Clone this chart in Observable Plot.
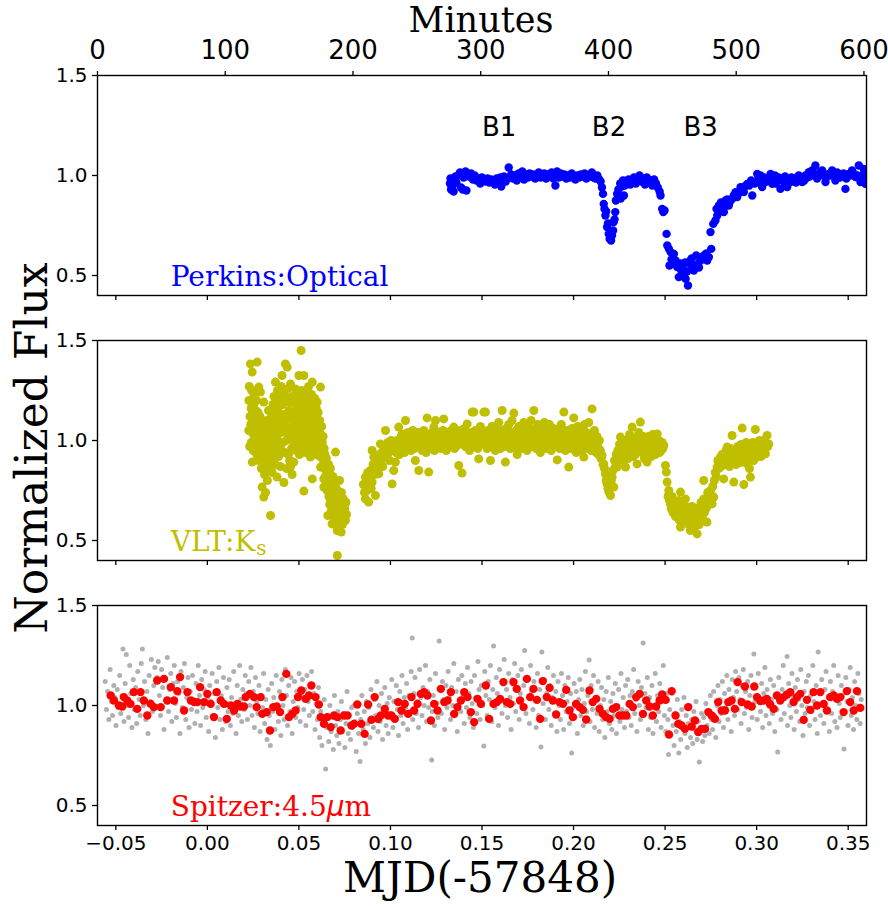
<!DOCTYPE html>
<html><head><meta charset="utf-8">
<script src="https://cdn.jsdelivr.net/npm/d3@7"></script>
<script src="https://cdn.jsdelivr.net/npm/@observablehq/plot@0.6"></script>
<style>
body{margin:0;background:#fff;}
#wrap{position:relative;width:888px;height:907px;overflow:hidden;}
#wrap svg{display:block;}
.ttl{position:absolute;font-family:"DejaVu Serif",serif;color:#000;white-space:nowrap;}
</style></head><body>
<div id="wrap"></div>
<script>
// ---------- data: [MJD(-57848), normalized flux] ----------
const perkins = [
[0.1325,0.96],[0.1328,0.985],[0.1331,0.93],[0.1335,0.975],[0.134,0.95],[0.1345,0.92],[0.135,0.98],[0.1355,0.995],[0.136,0.965],[0.137,1.0],[0.138,1.015],[0.1385,0.94],[0.139,1.005],[0.1395,0.93],[0.14,0.99],[0.141,1.02],[0.1415,0.925],[0.142,1.005],[0.143,0.995],[0.144,1.01],[0.145,0.98],[0.146,1.0],[0.147,0.975],[0.148,0.985],[0.149,0.96],[0.15,0.99],[0.151,0.975],[0.152,0.97],[0.153,0.985],[0.154,0.965],[0.155,0.98],[0.156,0.975],[0.157,0.955],[0.158,0.985],[0.159,0.97],[0.16,0.99],[0.1605,0.945],[0.161,0.975],[0.162,0.995],[0.163,0.97],[0.1646,1.04],[0.165,0.99],[0.166,1.005],[0.167,0.985],[0.168,1.0],[0.169,0.975],[0.17,1.01],[0.171,0.995],[0.172,1.02],[0.173,0.98],[0.174,1.005],[0.175,0.99],[0.176,1.01],[0.177,0.995],[0.178,1.005],[0.179,0.985],[0.18,1.0],[0.181,1.015],[0.182,0.99],[0.183,1.0],[0.184,1.01],[0.185,0.985],[0.186,1.005],[0.187,0.995],[0.188,1.015],[0.189,0.985],[0.1901,0.95],[0.19,1.0],[0.191,1.02],[0.192,0.99],[0.193,1.01],[0.194,0.995],[0.195,1.005],[0.196,0.985],[0.197,1.0],[0.198,0.99],[0.199,1.01],[0.2,0.995],[0.201,0.98],[0.202,1.0],[0.203,0.99],[0.204,1.005],[0.205,0.995],[0.206,1.01],[0.207,0.985],[0.208,1.0],[0.209,0.995],[0.21,1.015],[0.211,0.99],[0.212,0.985],[0.213,1.0],[0.214,0.98],
[0.2148,0.97],[0.2155,0.94],[0.2161,0.908],[0.2165,0.858],[0.2169,0.833],[0.2174,0.8],[0.2178,0.82],[0.2183,0.742],[0.2188,0.76],[0.2192,0.708],[0.2197,0.683],[0.2201,0.69],[0.2205,0.675],[0.221,0.7],[0.2216,0.725],[0.2219,0.767],[0.2224,0.78],[0.2228,0.817],[0.2231,0.875],[0.2238,0.908],
[0.2245,0.93],[0.2255,0.96],[0.2258,0.885],[0.2262,0.945],[0.227,0.975],[0.2275,0.9],[0.228,0.95],[0.229,0.965],[0.23,0.98],[0.231,0.955],[0.232,0.97],[0.233,0.99],[0.234,0.96],[0.235,0.975],[0.236,1.0],[0.237,0.97],[0.238,0.985],[0.239,0.955],[0.24,0.99],[0.241,0.965],[0.242,0.975],[0.243,0.95],[0.244,0.98],[0.245,0.96],[0.246,0.94],[0.247,0.92],[0.2475,0.9],
[0.2484,0.833],[0.249,0.817],[0.2497,0.825],[0.2508,0.708],[0.2512,0.65],[0.2521,0.633],[0.253,0.617],[0.2524,0.55],[0.2535,0.58],[0.2548,0.608],[0.255,0.56],[0.2557,0.575],[0.2566,0.542],[0.2575,0.492],[0.2585,0.56],[0.2588,0.525],[0.2595,0.54],[0.2603,0.508],[0.261,0.565],[0.2612,0.483],[0.262,0.52],[0.2625,0.45],[0.2636,0.558],[0.2639,0.575],[0.2645,0.585],[0.2648,0.55],[0.2657,0.525],[0.2666,0.542],[0.267,0.6],[0.2679,0.558],[0.2685,0.54],[0.2694,0.575],[0.27,0.59],[0.2712,0.6],[0.2725,0.61],[0.273,0.575],[0.2739,0.592],[0.2752,0.633],[0.2748,0.717],[0.2763,0.758],[0.2775,0.775],[0.2781,0.833],[0.2785,0.8],[0.2794,0.85],[0.28,0.83],[0.2805,0.865],[0.2812,0.858],[0.2821,0.817],[0.2825,0.845],[0.283,0.875],[0.284,0.88],[0.2848,0.85],[0.2855,0.87],[0.2867,0.883],[0.2875,0.9],[0.2885,0.917],[0.2894,0.892],[0.29,0.91],[0.2912,0.942],[0.292,0.93],[0.293,0.917],[0.2935,0.945],[0.2948,0.958],[0.296,0.95],[0.297,0.975],[0.2976,0.9],[0.2985,0.967],[0.299,0.96],[0.3003,1.008],[0.301,0.985],[0.3021,1.0],[0.302,0.965],[0.303,0.942],[0.304,0.99],[0.3048,0.967],[0.306,0.975],[0.307,0.99],[0.3076,1.008],[0.3085,0.958],[0.3094,0.983],[0.31,1.0],[0.3105,0.96],[0.3112,0.975],[0.312,0.99],[0.313,0.933],[0.314,0.98],[0.3148,0.967],[0.3155,0.995],[0.3167,0.942],[0.3175,0.975],[0.3185,0.967],[0.319,0.99],[0.3203,0.983],[0.3215,0.965],[0.322,0.99],[0.323,1.0],[0.324,0.985],[0.3249,0.967],[0.326,0.975],[0.3267,1.0],[0.3275,0.99],[0.3285,1.017],[0.329,0.995],[0.3303,1.025],[0.331,1.005],[0.3321,1.05],[0.333,0.985],[0.334,1.0],[0.3345,1.015],[0.3358,1.025],[0.3365,1.0],[0.3376,0.967],[0.338,0.99],[0.3394,1.008],[0.34,1.0],[0.3412,1.025],[0.342,1.0],[0.343,0.975],[0.344,1.015],[0.3449,0.992],[0.3455,0.99],[0.3467,1.0],[0.3475,1.01],[0.3485,0.933],[0.349,0.985],[0.3503,1.008],[0.351,1.0],[0.3521,1.025],[0.353,1.01],[0.354,0.992],[0.355,1.0],[0.3558,1.05],[0.3567,0.967],[0.3575,1.0],[0.3585,1.033],[0.359,1.02],[0.3594,0.958],[0.3598,0.99]
];

const vlt = [
[0.0226,1.05],[0.0227,1.2],[0.0229,1.27],[0.0231,0.97],[0.0233,1.12],[0.0235,1.383],[0.0235,1.2],[0.0237,1.08],[0.0239,1.16],[0.024,0.99],[0.0242,1.25],[0.0244,1.04],[0.0245,1.342],[0.0245,0.892],[0.0247,1.13],[0.0249,1.21],[0.025,0.95],[0.0252,1.07],[0.0254,1.18],[0.0256,1.01],[0.0258,1.23],[0.026,1.1],[0.0262,0.97],[0.0264,1.15],[0.0266,1.04],[0.0268,1.2],[0.027,0.93],[0.0272,1.392],[0.0273,1.09],[0.0275,1.0],[0.0277,1.14],[0.0279,0.9],[0.0281,1.267],[0.0283,1.06],[0.0285,0.98],[0.0287,1.12],[0.029,1.242],[0.0291,0.94],[0.0293,1.03],[0.0295,0.86],[0.0297,1.1],[0.0299,0.767],[0.0301,0.99],[0.0303,1.07],[0.0305,0.91],[0.0308,0.717],[0.0308,1.192],[0.031,1.0],
[0.0312,0.83],[0.0314,1.05],[0.0316,0.95],[0.0318,0.74],[0.032,1.02],[0.0322,0.88],[0.0324,1.1],[0.0326,0.97],[0.0328,0.8],[0.033,1.04],[0.0332,0.92],[0.0334,1.15],[0.0336,0.99],[0.0338,0.86],[0.034,1.08],[0.0342,0.95],[0.0345,0.625],[0.0346,1.01],[0.0348,0.9],[0.035,1.12],[0.0352,0.97],[0.0354,0.84],[0.0356,1.05],[0.0358,1.18],
[0.036,0.93],[0.0362,1.07],[0.0364,1.22],[0.0366,0.99],[0.0368,1.14],[0.037,0.88],[0.0372,1.292],[0.0374,1.03],[0.0376,1.19],[0.0378,0.96],[0.038,1.1],[0.0381,0.817],[0.0383,1.25],[0.0385,1.0],[0.0387,1.16],[0.0389,0.92],[0.0391,1.07],[0.0393,1.21],[0.0395,0.98],[0.0397,1.12],[0.0399,0.87],[0.0401,1.04],[0.0403,1.27],[0.0405,0.95],[0.0408,1.325],[0.0409,1.09],[0.0411,1.18],[0.0413,0.99],[0.0415,1.13],[0.0418,0.79],[0.0419,1.05],[0.0421,1.23],[0.0423,0.94],[0.0426,1.383],[0.0427,1.08],[0.0429,1.2],[0.0431,1.0],[0.0433,0.86],[0.0436,1.367],[0.0437,1.12],[0.0439,1.03],[0.0441,1.26],[0.0443,0.93],[0.0445,1.15],[0.0447,1.06],[0.0449,0.9],[0.0451,1.19],[0.0454,1.283],[0.0454,0.867],[0.0456,1.01],[0.0458,1.11],[0.046,0.96],[0.0463,0.83],[0.0464,1.22],[0.0466,1.04],[0.0468,1.14],[0.047,0.97],[0.0472,0.892],[0.0474,1.08],[0.0476,1.2],[0.0478,1.0],[0.0481,1.258],[0.0483,1.1],[0.0485,0.95],[0.0487,1.17],[0.0489,1.05],
[0.0491,1.23],[0.0493,0.98],[0.0495,1.12],[0.0497,1.03],[0.05,1.325],[0.0501,1.16],[0.0503,0.93],[0.0505,1.08],[0.0507,1.2],[0.0509,1.0],[0.0512,1.45],[0.0513,1.11],[0.0515,1.25],[0.0517,0.96],[0.0519,1.14],[0.0521,1.05],[0.0523,1.19],[0.0525,0.99],[0.0527,1.325],[0.0527,0.747],[0.0529,1.09],[0.0531,1.22],[0.0533,1.02],[0.0535,1.15],[0.0537,0.94],[0.0539,1.07],[0.0541,1.24],[0.0543,1.0],[0.0545,1.13],[0.0547,0.97],[0.0549,1.18],[0.0551,1.06],[0.0553,1.27],[0.0555,0.95],[0.0557,1.1],[0.0559,1.2],[0.0561,1.01],[0.0563,0.917],[0.0565,1.14],[0.0567,1.04],[0.0569,1.23],[0.0571,0.98],[0.0573,1.292],[0.0573,0.808],[0.0575,1.09],[0.0577,1.17],[0.0579,1.0],[0.0581,1.12],[0.0583,0.93],[0.0585,1.06],[0.0587,1.21],[0.0589,0.99],[0.0591,1.11],[0.0593,0.95],[0.0595,1.16],[0.0597,1.03],[0.06,1.192],[0.0601,0.97],[0.0603,1.08],[0.0605,1.14],[0.0607,0.94],[0.0609,1.05],[0.0611,1.0],[0.0613,1.1],[0.0615,0.92],[0.0618,1.267],[0.0618,0.867],[0.062,1.03],[0.0622,0.96],[0.0624,1.07],[0.0627,0.867],[0.0628,0.99],
[0.063,0.94],[0.0632,1.02],[0.0634,0.9],[0.0636,0.767],[0.0636,0.808],[0.0638,0.96],[0.064,0.86],[0.0642,0.93],[0.0644,0.82],[0.0646,0.89],[0.0648,0.78],[0.065,0.91],[0.0652,0.84],[0.0654,0.75],[0.0657,0.85],[0.0658,0.625],[0.066,0.8],[0.0662,0.88],[0.0664,0.72],[0.0666,0.83],[0.0668,0.68],[0.067,0.77],[0.0672,0.86],[0.0674,0.7],[0.0676,0.8],[0.0678,0.65],[0.0681,0.583],[0.0682,0.76],[0.0684,0.69],[0.0686,0.82],[0.0688,0.62],[0.069,0.73],[0.0692,0.67],[0.0694,0.78],[0.0696,0.6],[0.0698,0.71],[0.07,0.708],[0.07,0.942],[0.0702,0.64],[0.0704,0.76],[0.0706,0.58],[0.0709,0.75],[0.0709,0.55],[0.071,0.425],[0.0712,0.68],[0.0714,0.62],[0.0716,0.72],[0.0718,0.57],[0.072,0.66],[0.0722,0.8],[0.0724,0.6],[0.0726,0.7],[0.0728,0.64],[0.0731,0.542],[0.0732,0.74],[0.0734,0.62],[0.0736,0.68],[0.0738,0.58],[0.074,0.71],[0.0742,0.64],[0.0745,0.675],[0.0745,0.6],[0.0747,0.7],[0.0749,0.63],[0.0751,0.66],[0.0754,0.6],[0.0757,0.69],[0.076,0.63],
[0.0852,0.78],[0.0858,0.74],[0.0863,0.817],[0.0863,0.708],[0.0868,0.77],[0.0872,0.75],[0.0876,0.84],[0.0881,0.692],[0.0885,0.8],[0.0891,0.85],[0.0895,0.76],[0.09,0.792],[0.09,0.95],[0.0905,0.88],[0.0909,0.917],[0.0913,0.83],[0.0918,0.725],[0.0922,0.9],[0.0927,0.883],[0.0931,0.86],[0.0936,0.833],[0.094,0.93],[0.0945,0.983],[0.0949,0.9],[0.0954,0.94],[0.0958,0.87],[0.0963,0.967],[0.0968,0.92],[0.0973,1.05],[0.0977,0.96],[0.0982,0.917],[0.0986,0.99],[0.0991,0.94],[0.0995,0.9],[0.1,0.967],[0.1004,1.0],[0.1009,0.783],[0.1013,0.95],[0.1018,0.85],[0.1022,0.98],[0.1027,0.892],[0.1031,0.94],[0.1036,1.0],[0.104,0.96],[0.1045,1.067],[0.1049,0.93],[0.1054,0.99],
[0.1059,1.02],[0.1064,1.033],[0.1068,0.96],[0.1073,0.99],[0.1077,0.94],[0.1082,1.1],[0.1086,1.0],[0.1091,0.958],[0.1095,1.04],[0.11,0.97],[0.1104,1.01],[0.1109,1.033],[0.1113,0.95],[0.1118,0.99],[0.1122,1.05],[0.1127,0.992],[0.1131,0.96],[0.1136,0.9],[0.114,1.02],[0.1145,0.98],[0.115,1.04],[0.1155,0.85],[0.1159,0.97],[0.1164,0.983],[0.1168,1.03],[0.1173,0.95],[0.1177,1.0],[0.1182,1.05],[0.1186,0.97],[0.1191,1.02],[0.1195,0.94],[0.12,1.113],[0.1204,0.99],[0.1209,0.842],[0.1213,1.03],[0.1218,1.0],[0.1222,0.96],[0.1227,1.04],[0.1232,0.98],[0.1237,1.067],[0.1241,0.95],[0.1246,1.1],[0.125,1.01],[0.1255,0.97],[0.1259,1.04],[0.1264,0.983],[0.1268,1.02],[0.1273,1.033],[0.1277,0.96],[0.1282,1.0],[0.1286,1.05],[0.1291,1.108],[0.1295,0.98],[0.13,1.02],[0.1305,0.95],[0.1309,0.967],[0.1314,1.04],[0.1318,1.0],[0.1323,0.97],[0.1327,1.017],[0.1332,1.05],[0.1336,0.99],[0.1341,1.03],[0.1346,1.067],[0.135,0.96],[0.1355,1.01],[0.1359,0.98],[0.1364,0.975],[0.1368,1.04],[0.1373,0.875],[0.1377,1.02],[0.1382,1.05],[0.1386,0.99],[0.1391,0.837],[0.1395,1.0],[0.14,1.0],[0.1405,1.06],[0.1409,0.97],[0.1414,1.03],[0.1419,1.083],[0.1423,0.98],[0.1428,1.02],[0.1432,0.95],[0.1437,0.967],[0.1441,1.04],[0.1446,1.142],[0.145,1.0],[0.1455,1.142],[0.1459,0.97],[0.1464,1.05],[0.1468,1.01],[0.1473,1.033],[0.1477,0.96],[0.1482,0.908],[0.1486,1.03],[0.1491,1.07],[0.1495,0.99],[0.15,1.0],[0.1505,1.04],[0.151,1.142],[0.1514,0.98],[0.1519,1.142],[0.1523,1.02],[0.1528,0.96],[0.1532,1.05],[0.1537,1.05],[0.1541,0.99],[0.1546,0.9],[0.155,1.03],
[0.1555,1.07],[0.156,0.97],[0.1564,1.02],[0.1569,1.06],[0.1573,0.95],[0.1578,1.0],[0.1582,1.04],[0.1587,0.98],[0.1591,1.09],[0.1596,1.01],[0.16,0.96],[0.1605,1.05],[0.161,1.15],[0.1614,1.0],[0.1619,1.03],[0.1623,0.97],[0.1628,0.892],[0.1632,1.06],[0.1637,1.02],[0.1641,0.99],[0.1646,1.08],[0.165,1.01],[0.1655,0.96],[0.1659,1.04],[0.1664,1.1],[0.1668,0.98],[0.1674,1.137],[0.1678,1.02],[0.1683,0.97],[0.1687,1.05],[0.1692,0.93],[0.1696,1.01],[0.1701,1.07],[0.1705,0.99],[0.171,1.03],[0.1714,0.96],[0.1719,1.06],[0.1723,1.0],[0.1728,1.09],[0.1732,0.98],[0.1737,1.04],[0.1741,1.01],[0.1746,0.95],[0.175,1.07],[0.1755,1.02],[0.1759,0.99],[0.1764,1.05],[0.1768,1.1],[0.1773,0.97],[0.1778,1.03],[0.1783,1.15],[0.1787,1.0],[0.1792,1.06],[0.1796,0.96],[0.1801,1.02],[0.1805,1.08],[0.181,0.99],[0.1814,1.04],[0.1819,0.94],[0.1823,1.01],[0.1828,1.07],[0.1832,0.98],[0.1837,1.03],[0.1841,1.09],[0.1846,1.0],[0.185,0.96],[0.1855,1.05],[0.1859,1.02],[0.1864,0.97],[0.1868,1.08],[0.1873,1.01],[0.1878,0.95],[0.1882,1.04],[0.1887,1.0],[0.1891,1.06],[0.1896,0.98],[0.19,1.03],[0.1905,0.99],[0.1911,0.903],[0.1915,1.05],[0.192,1.01],[0.1924,0.96],[0.1929,1.04],[0.1933,1.08],[0.1938,0.97],[0.1942,1.02],[0.1947,1.142],[0.1951,1.0],[0.1956,0.95],[0.196,1.05],[0.1965,1.01],[0.1969,0.98],[0.1974,0.867],[0.1978,1.04],[0.1983,1.0],[0.1987,0.96],[0.1992,1.06],[0.1996,1.02],[0.2001,1.113],[0.2005,0.99],[0.201,1.04],[0.2014,0.94],[0.2019,1.01],[0.2023,1.07],[0.2028,0.97],[0.2032,1.03],[0.2037,0.99],[0.2041,1.05],[0.2046,0.95],[0.205,1.02],[0.2056,0.917],[0.206,1.08],[0.2065,0.99],[0.2069,1.04],[0.2074,0.96],[0.2078,1.02],[0.2083,1.09],[0.2087,0.98],[0.2092,1.03],[0.2096,0.95],[0.2101,1.158],[0.2105,1.01],[0.211,0.97],[0.2114,1.05],[0.2119,0.99],[0.2123,0.94],[0.2128,1.02],[0.2132,0.97],[0.2137,0.93],[0.2141,1.0],[0.2146,0.95],[0.215,0.91],
[0.2156,0.925],[0.2161,0.88],[0.2165,0.883],[0.2169,0.86],[0.2174,0.833],[0.2178,0.8],[0.2183,0.783],[0.2188,0.76],[0.2193,0.742],[0.2197,0.78],[0.2202,0.725],[0.2206,0.8],[0.2211,0.817],[0.2215,0.85],[0.222,0.767],[0.2224,0.9],[0.2229,0.87],[0.2233,0.93],[0.2238,0.867],[0.2242,0.95],
[0.2247,0.92],[0.2251,0.98],[0.2256,1.017],[0.226,0.94],[0.2265,0.9],[0.2269,0.97],[0.2274,0.93],[0.2278,1.0],[0.2284,0.867],[0.2288,0.95],[0.2292,0.99],[0.2297,0.91],[0.2301,0.97],[0.2306,1.03],[0.231,0.94],[0.2315,0.98],[0.232,1.067],[0.2324,0.92],[0.2329,0.96],[0.2333,1.01],[0.2338,0.93],[0.2342,0.99],[0.2347,0.883],[0.2351,0.97],[0.2356,1.04],[0.236,0.95],[0.2365,1.092],[0.2369,1.0],[0.2374,0.94],[0.2378,0.98],[0.2383,1.02],[0.2387,0.91],[0.2392,0.97],[0.2397,1.0],[0.2402,0.892],[0.2406,0.96],[0.2411,1.02],[0.2415,0.94],[0.242,0.99],[0.2424,0.92],[0.2429,0.98],[0.2433,1.03],[0.2438,0.95],[0.2442,1.0],[0.2447,0.93],[0.2451,0.98],[0.2457,1.033],[0.2461,0.96],[0.2466,1.0],[0.247,0.94],[0.2475,0.98],[0.2479,0.95],[0.2484,0.99],[0.2488,0.96],[0.2493,0.975],
[0.2502,0.875],[0.2507,0.842],[0.2511,0.792],[0.252,0.75],[0.2516,0.72],
[0.2524,0.7],[0.2529,0.683],[0.2533,0.66],[0.2538,0.72],[0.2543,0.64],[0.2548,0.642],[0.2552,0.69],[0.2557,0.62],[0.2561,0.67],[0.2566,0.617],[0.257,0.66],[0.2575,0.7],[0.2579,0.6],[0.2584,0.567],[0.2584,0.742],[0.2588,0.64],[0.2593,0.68],[0.2597,0.62],[0.2602,0.633],[0.2606,0.66],[0.2611,0.708],[0.2615,0.6],[0.262,0.667],[0.2624,0.63],[0.2629,0.58],[0.2633,0.65],[0.2638,0.55],[0.2642,0.62],[0.2647,0.67],[0.2651,0.59],[0.2657,0.6],[0.266,0.64],[0.2665,0.57],[0.2669,0.66],[0.2675,0.533],[0.2678,0.61],[0.2683,0.65],[0.2687,0.58],[0.2693,0.65],[0.2696,0.69],[0.2701,0.62],[0.2706,0.67],[0.2711,0.708],[0.2711,0.8],[0.2715,0.64],[0.272,0.7],[0.2724,0.66],[0.2729,0.592],[0.2733,0.74],[0.2738,0.68],[0.2742,0.72],[0.2748,0.75],[0.2751,0.7],[0.2757,0.683],[0.276,0.77],[0.2766,0.717],[0.2769,0.8],
[0.2774,0.84],[0.2779,0.82],[0.2784,0.867],[0.2788,0.9],[0.2793,0.86],[0.2797,0.88],[0.2802,0.917],[0.2806,0.87],[0.2811,0.93],[0.2815,0.89],[0.282,0.808],[0.2824,0.92],[0.2829,0.88],[0.2833,0.95],[0.2839,0.967],[0.2843,0.9],[0.2848,0.93],[0.2852,0.87],[0.2857,0.96],[0.2861,0.91],[0.2866,1.025],[0.287,0.94],[0.2875,0.792],[0.2879,0.9],[0.2884,0.95],[0.2888,0.88],[0.2893,0.933],[0.2897,0.97],[0.2902,0.91],[0.2906,0.95],[0.2911,0.89],[0.2915,0.98],[0.2921,1.062],[0.2925,0.93],[0.293,0.78],[0.2934,0.96],[0.2939,0.9],[0.2943,0.99],[0.2948,0.883],[0.2952,0.94],[0.2957,0.97],[0.2961,0.86],[0.2966,0.817],[0.297,0.93],[0.2975,0.95],[0.2979,0.99],[0.2984,0.9],[0.2988,0.96],[0.2993,1.055],[0.2997,0.94],[0.3002,0.917],[0.3006,0.98],[0.3011,0.95],[0.3015,1.0],[0.302,0.967],[0.3024,0.92],[0.3029,0.99],[0.3034,0.96],[0.3039,1.0],[0.3043,0.94],[0.3048,0.933],[0.3052,0.98],[0.3057,1.025],[0.3061,0.97],[0.3066,0.983]
];

const spitzerRaw = [
[-0.0558,1.12],[-0.0551,0.98],[-0.0545,1.07],[-0.0538,0.93],[-0.0531,1.18],[-0.0525,1.02],[-0.0518,0.95],[-0.0511,1.1],[-0.0505,1.04],[-0.0499,0.9],[-0.0492,1.08],[-0.0486,0.99],
[-0.0479,1.15],[-0.0473,0.96],[-0.0466,1.05],[-0.0461,1.283],[-0.0455,0.92],[-0.0449,1.11],[-0.0443,1.255],[-0.0437,1.0],[-0.043,0.94],[-0.0424,1.2],[-0.0418,1.06],[-0.0412,0.89],[-0.0405,1.13],[-0.0399,0.98],[-0.0392,1.09],[-0.0386,0.91],
[-0.038,1.17],[-0.0373,1.03],[-0.0367,0.95],[-0.0361,1.21],[-0.0355,1.283],[-0.0349,1.0],[-0.0343,1.12],[-0.0336,0.93],[-0.033,1.07],[-0.0324,0.86],[-0.0318,1.15],[-0.0312,1.02],[-0.0306,1.23],[-0.03,0.97],[-0.0293,1.1],[-0.0287,1.19],
[-0.0281,0.99],[-0.0275,1.14],[-0.0268,1.22],[-0.0262,1.05],[-0.0256,0.95],[-0.025,1.18],[-0.0244,1.09],[-0.0237,0.88],[-0.0231,1.13],[-0.0225,1.03],[-0.0219,1.24],[-0.0212,0.97],[-0.0206,1.08],[-0.02,1.16],[-0.0194,0.92],[-0.0187,1.11],
[-0.0181,1.2],[-0.0175,1.01],[-0.0169,0.94],[-0.0162,1.12],[-0.0156,1.06],[-0.015,0.86],[-0.0144,1.17],[-0.0137,0.99],[-0.0131,1.09],[-0.0125,1.21],[-0.0118,0.93],[-0.0112,1.04],[-0.0106,1.14],[-0.01,0.89],[-0.0093,1.07],[-0.0087,0.98],
[-0.0081,1.15],[-0.0075,1.03],[-0.0068,0.91],[-0.0062,1.11],[-0.0056,0.97],[-0.005,1.2],[-0.0043,1.05],[-0.0037,0.9],[-0.0031,1.13],[-0.0025,0.99],[-0.0018,1.08],[-0.0012,1.17],[-0.0006,0.94],[0.0001,1.04],[0.0007,0.87],[0.0013,1.1],
[0.0019,1.02],[0.0026,1.16],[0.0032,0.95],[0.0038,1.06],[0.0044,0.84],[0.0051,1.12],[0.0057,0.99],[0.0063,1.19],[0.0069,0.93],[0.0076,1.05],[0.0082,0.88],[0.0088,1.14],[0.0094,1.0],[0.0101,0.92],[0.0107,1.09],[0.0113,0.97],
[0.0119,1.13],[0.0126,0.9],[0.0132,1.04],[0.0138,0.96],[0.0144,1.17],[0.0151,1.01],[0.0157,0.86],[0.0163,1.1],[0.0169,0.95],[0.0176,1.2],[0.0182,1.03],[0.0188,0.92],[0.0194,1.08],[0.0201,0.98],[0.0207,1.15],[0.0213,1.06],
[0.0219,0.93],[0.0226,1.12],[0.0232,1.0],[0.0238,1.19],[0.0244,0.95],[0.0251,1.07],[0.0257,0.89],[0.0263,1.14],[0.0269,1.02],[0.0276,0.96],[0.0282,1.1],[0.0288,0.87],[0.0294,1.05],[0.0301,0.99],[0.0307,1.16],[0.0313,0.91],
[0.0319,1.03],[0.0326,0.83],[0.0332,1.08],[0.0338,0.95],[0.0344,0.8],[0.0351,1.11],[0.0357,0.97],[0.0363,1.04],[0.0369,0.88],[0.0376,1.15],[0.0382,0.99],[0.0388,0.92],[0.0394,1.07],[0.0401,0.85],[0.0407,1.13],[0.0413,1.0],
[0.0419,0.93],[0.0426,1.18],[0.0432,1.05],[0.0438,0.9],[0.0444,1.1],[0.0451,0.97],[0.0457,1.14],[0.0463,0.86],[0.0469,1.02],[0.0476,1.12],[0.0482,0.94],[0.0488,1.07],[0.0494,0.99],[0.0501,1.16],[0.0507,0.92],[0.0513,1.05],
[0.0519,1.13],[0.0526,0.98],[0.0532,1.08],[0.0538,0.9],[0.0544,1.15],[0.0551,1.02],[0.0557,0.95],[0.0563,1.1],[0.0569,1.17],[0.0576,0.97],[0.0582,1.06],[0.0588,0.88],[0.0594,1.01],[0.0601,0.93],[0.0607,1.09],[0.0613,0.84],
[0.0619,0.97],[0.0626,0.8],[0.0632,0.92],[0.0638,1.03],[0.0646,0.683],[0.0651,0.89],[0.0657,0.95],[0.0663,0.82],[0.0669,1.0],[0.0676,0.87],[0.0682,0.94],[0.0688,0.78],[0.0694,1.05],[0.0701,0.9],[0.0707,0.85],[0.0713,0.97],
[0.0719,0.81],[0.0726,0.93],[0.0732,1.02],[0.0738,0.87],[0.0744,0.96],[0.0751,0.79],[0.0757,0.91],[0.0763,1.07],[0.0769,0.86],[0.0776,0.95],[0.0782,0.83],[0.0788,0.99],[0.0794,0.89],[0.0801,1.0],[0.0807,0.92],[0.0813,0.77],
[0.0819,0.96],[0.0826,0.86],[0.0834,0.72],[0.0838,0.93],[0.0844,1.05],[0.0851,0.88],[0.0857,0.97],[0.0863,0.81],[0.0869,1.02],[0.0876,0.91],[0.0882,0.99],[0.0888,0.84],[0.0894,1.08],[0.0901,0.94],[0.0907,0.89],[0.0913,1.03],
[0.0919,0.95],[0.0926,1.12],[0.0932,0.87],[0.0938,1.0],[0.0944,0.92],[0.0951,1.06],[0.0957,0.83],[0.0963,0.97],[0.0969,1.09],[0.0976,0.9],[0.0982,1.01],[0.0988,0.86],[0.0994,1.04],[0.1001,0.96],[0.1007,1.13],[0.1013,0.89],
[0.1019,1.02],[0.1026,0.94],[0.1032,1.1],[0.1038,0.98],[0.1044,0.85],[0.1051,1.07],[0.1057,0.95],[0.1063,1.15],[0.1069,0.91],[0.1076,1.04],[0.1082,0.99],[0.1088,1.11],[0.1094,0.88],[0.1101,1.05],[0.1107,0.97],[0.1113,1.17],
[0.1119,1.337],[0.1122,0.93],[0.1128,1.06],[0.1134,1.14],[0.1141,0.96],[0.1147,1.02],[0.1153,0.89],[0.1159,1.18],[0.1166,1.04],[0.1172,0.95],[0.1178,1.09],[0.1184,1.0],[0.1191,1.2],[0.1197,0.92],[0.1203,1.07],[0.1209,0.99],
[0.1215,1.13],[0.1225,0.728],[0.1228,0.97],[0.1234,1.05],[0.124,0.9],[0.1246,1.16],[0.1253,1.01],[0.1259,0.94],[0.1266,1.322],[0.1271,1.08],[0.1278,0.96],[0.1284,1.12],[0.129,1.03],[0.1296,0.88],[0.1303,1.1],[0.1309,0.99],
[0.1315,1.17],[0.1321,1.04],[0.1328,0.93],[0.1334,1.09],[0.134,1.0],[0.1346,1.21],[0.1353,0.95],[0.1359,1.07],[0.1365,0.87],[0.1371,1.13],[0.1378,1.02],[0.1384,0.97],[0.139,1.15],[0.1396,1.05],[0.1403,0.91],[0.1409,1.11],
[0.1415,0.99],[0.1421,1.19],[0.1428,1.06],[0.1434,0.94],[0.144,1.12],[0.1446,1.01],[0.1453,0.89],[0.1459,1.15],[0.1465,1.04],[0.1471,0.96],[0.1478,1.22],[0.1484,1.08],[0.149,0.93],[0.1496,1.1],[0.1503,1.0],[0.151,0.797],
[0.1515,1.17],[0.1521,1.05],[0.1528,0.95],[0.1534,1.12],[0.154,1.03],[0.1546,1.2],[0.1553,0.92],[0.1559,1.08],[0.1563,1.297],[0.1571,0.99],[0.1578,1.14],[0.1584,1.06],[0.159,0.9],[0.1596,1.18],[0.1603,1.02],[0.1609,0.96],
[0.1615,1.11],[0.1621,1.23],[0.1628,1.0],[0.1634,1.08],[0.164,0.94],[0.1646,1.16],[0.1653,1.04],[0.1659,0.88],[0.1665,1.13],[0.1671,1.01],[0.1678,1.21],[0.1684,0.97],[0.169,1.09],[0.1696,1.15],[0.1703,0.93],[0.1709,1.06],
[0.1715,1.18],[0.1721,1.0],[0.1728,1.1],[0.1733,1.275],[0.174,0.96],[0.1746,1.14],[0.1753,1.04],[0.1759,0.91],[0.1765,1.2],[0.1771,1.07],[0.1778,0.98],[0.1784,1.12],[0.179,1.03],[0.1796,0.89],[0.1803,1.16],[0.1809,0.95],
[0.1815,1.08],[0.1822,0.792],[0.1827,1.267],[0.1834,1.01],[0.184,1.13],[0.1846,0.93],[0.1853,1.06],[0.1859,1.19],[0.1865,0.98],[0.1871,1.1],[0.1878,0.9],[0.1884,1.04],[0.189,1.15],[0.1896,0.96],[0.1903,1.07],[0.1909,0.87],
[0.1915,1.12],[0.1921,1.0],[0.1928,0.93],[0.1934,1.16],[0.194,1.05],[0.1946,0.88],[0.1953,1.1],[0.1959,0.97],[0.1965,1.02],[0.1971,1.14],[0.1978,0.91],[0.1984,1.06],[0.199,0.762],[0.1996,0.99],[0.2003,1.11],[0.2009,0.94],
[0.2015,1.07],[0.2021,0.86],[0.2028,1.03],[0.2034,1.13],[0.204,0.95],[0.2046,1.08],[0.2053,0.9],[0.2059,1.01],[0.2065,1.17],[0.2071,0.97],[0.2078,1.05],[0.2085,1.228],[0.209,0.92],[0.2096,1.1],[0.2103,0.98],[0.2109,1.15],
[0.2115,0.89],[0.2121,1.04],[0.2128,0.96],[0.2134,1.12],[0.214,0.87],[0.2146,1.0],[0.2153,1.09],[0.2159,0.93],[0.2165,1.03],[0.2171,0.84],[0.2178,1.07],[0.2184,0.97],[0.219,1.14],[0.2196,0.91],[0.2203,1.02],[0.2209,0.88],
[0.2215,1.06],[0.2221,0.95],[0.2228,1.11],[0.2234,0.86],[0.224,1.0],[0.2246,1.08],[0.2253,0.92],[0.2259,1.16],[0.2265,0.98],[0.2271,1.04],[0.2278,0.89],[0.2284,1.1],[0.229,0.97],[0.2296,1.13],[0.2303,0.94],[0.2309,1.05],
[0.2315,0.9],[0.2321,1.07],[0.2328,1.18],[0.2334,0.96],[0.234,1.03],[0.2346,0.87],[0.2353,1.12],[0.2359,1.0],[0.2365,0.93],[0.2371,1.09],[0.238,1.312],[0.2384,0.95],[0.239,1.06],[0.2396,0.99],[0.2403,1.14],[0.2409,0.88],
[0.2415,1.04],[0.2421,0.94],[0.2428,1.1],[0.2434,0.86],[0.244,1.0],[0.2446,1.16],[0.2453,0.92],[0.2459,1.05],[0.2465,0.97],[0.2471,1.11],[0.2478,0.89],[0.2484,1.02],[0.249,1.2],[0.2496,0.95],[0.2503,0.87],[0.2509,1.06],
[0.2515,0.93],[0.2519,0.755],[0.2525,0.98],[0.2531,0.85],[0.2537,1.06],[0.2543,0.9],[0.2549,0.8],[0.2555,0.96],[0.2561,0.87],[0.2567,1.03],[0.2575,0.762],[0.2579,0.92],[0.2585,0.83],[0.2591,0.98],[0.2597,0.89],[0.2603,1.04],
[0.2609,0.86],[0.2615,0.95],[0.2621,0.79],[0.2627,0.91],[0.2633,1.0],[0.2639,0.84],[0.2645,0.93],[0.2651,0.81],[0.2657,0.97],[0.2663,0.88],[0.2669,1.02],[0.2675,0.83],[0.2681,0.92],[0.2687,0.717],[0.2693,0.87],[0.2699,0.96],
[0.2705,0.82],[0.2711,0.94],[0.2717,0.85],[0.2723,1.01],[0.2729,0.9],[0.2735,0.97],[0.2741,0.86],[0.2747,1.05],[0.2753,0.93],[0.2759,0.88],[0.2765,1.07],[0.2771,0.95],[0.2777,0.84],[0.2783,1.0],[0.2789,1.1],[0.2795,0.92],
[0.2801,1.03],[0.2807,0.96],[0.2813,1.12],[0.2819,0.89],[0.2825,1.06],[0.2831,0.99],[0.2837,1.15],[0.2843,0.93],[0.2849,1.08],[0.2855,1.01],[0.2861,0.87],[0.2867,1.13],[0.2873,1.04],[0.2879,0.95],[0.2885,1.17],[0.2891,1.07],
[0.2897,0.98],[0.2903,1.14],[0.2909,1.03],[0.2915,0.91],[0.2921,1.1],[0.2927,1.18],[0.2933,0.96],[0.2939,1.07],[0.2945,0.99],[0.2951,1.12],[0.2957,0.88],[0.2963,1.05],[0.2969,1.15],[0.2975,0.94],[0.2985,1.258],[0.2991,1.02],
[0.2997,1.09],[0.3003,0.93],[0.3009,1.16],[0.3015,1.04],[0.3021,0.97],[0.3027,1.11],[0.3033,0.89],[0.3039,1.06],[0.3045,1.19],[0.3051,0.95],[0.3057,1.08],[0.3063,1.01],[0.3069,0.91],[0.3075,1.13],[0.3081,1.03],[0.3087,0.96],
[0.3093,1.1],[0.3099,0.87],[0.3105,1.05],[0.3111,0.98],[0.3115,0.767],[0.3121,1.14],[0.3127,1.02],[0.3133,0.93],[0.3139,1.08],[0.3145,1.2],[0.3151,0.96],[0.3157,1.06],[0.3166,1.245],[0.3169,0.9],[0.3175,1.11],[0.3181,1.0],
[0.3187,0.94],[0.3193,1.16],[0.3199,1.04],[0.3205,0.88],[0.3211,1.09],[0.3217,0.97],[0.3223,1.13],[0.3229,1.03],[0.3235,0.92],[0.3241,1.18],[0.3247,1.0],[0.3253,0.85],[0.3259,1.07],[0.3265,0.96],[0.3271,1.12],[0.3277,0.99],
[0.3283,1.15],[0.3289,0.9],[0.3295,1.05],[0.3301,0.97],[0.3307,1.2],[0.3313,1.02],[0.3319,0.93],[0.3325,1.1],[0.3331,0.86],[0.3336,1.267],[0.3343,1.06],[0.3349,0.95],[0.3355,1.13],[0.3361,1.0],[0.3367,0.91],[0.3373,1.08],
[0.3379,1.17],[0.3385,0.98],[0.3391,1.04],[0.3397,0.87],[0.3403,1.12],[0.3409,0.96],[0.3415,1.07],[0.3421,1.2],[0.3427,0.92],[0.3433,1.03],[0.3439,0.89],[0.3445,1.15],[0.3451,1.01],[0.3457,0.94],[0.3463,1.1],[0.3469,1.05],
[0.3477,0.783],[0.3481,0.97],[0.3487,1.14],[0.3493,1.02],[0.3499,0.9],[0.3505,1.08],[0.3511,1.19],[0.3517,0.95],[0.3523,1.04],[0.3529,0.88],[0.3535,1.12],[0.3541,1.0],[0.3547,0.93],[0.3553,1.16],[0.3559,1.06],[0.3565,0.91],[0.3571,1.03]
];

const spitzerBinned = [
[-0.0528,1.05],[-0.051,1.025],[-0.0483,1.0],[-0.0465,0.995],[-0.0456,1.042],[-0.0438,1.025],[-0.042,1.008],[-0.0402,1.067],[-0.0383,0.983],[-0.0365,1.067],[-0.0347,1.025],[-0.0328,0.95],[-0.031,1.008],[-0.0292,0.992],[-0.0274,1.125],[-0.0255,0.992],[-0.0237,1.133],[-0.0219,1.025],[-0.02,1.092],[-0.0182,1.025],[-0.0164,1.072],[-0.0149,1.142],[-0.0127,0.975],[-0.0109,1.067],[-0.009,1.025],[-0.0072,1.017],[-0.0054,1.017],[-0.004,1.092],[-0.0018,1.017],[0.0,1.058],[0.0018,1.008],[0.0036,0.942],[0.0051,1.067],[0.0073,1.025],[0.0091,1.008],[0.0106,0.933],[0.0128,1.0],[0.0146,0.975],[0.0164,1.008],[0.0182,0.995],[0.02,0.995],[0.0209,1.042],[0.0233,1.058],[0.0255,1.042],[0.0269,0.992],[0.0291,1.042],[0.03,0.958],[0.0324,0.967],[0.0342,0.875],[0.036,0.992],[0.0379,0.995],[0.0397,0.967],[0.041,1.042],[0.0431,1.158],[0.0446,0.942],[0.0464,0.958],[0.0482,0.975],[0.0495,1.042],[0.0513,1.075],[0.0537,1.033],[0.0555,1.05],[0.0568,1.1],[0.0591,1.042],[0.0609,1.005],[0.0619,0.942],[0.0637,0.908],[0.0655,0.942],[0.0674,0.892],[0.0692,0.95],[0.071,0.942],[0.0728,0.875],[0.0747,0.95],[0.0765,0.95],[0.0787,0.9],[0.0801,0.908],[0.0819,1.005],[0.0841,0.908],[0.0859,0.858],[0.0878,1.005],[0.0896,0.928],[0.0914,1.042],[0.0932,0.933],[0.0947,0.95],[0.0969,0.983],[0.0987,0.95],[0.1005,0.95],[0.1024,0.933],[0.1042,1.017],[0.106,0.975],[0.1078,1.008],[0.1097,0.958],[0.1115,1.042],[0.1129,0.975],[0.1148,1.008],[0.1166,1.058],[0.1184,1.067],[0.1202,1.05],[0.1221,0.925],[0.1239,1.008],[0.1257,0.975],[0.1275,1.083],[0.1294,1.017],[0.1312,1.025],[0.133,1.067],[0.1348,0.958],[0.1366,0.992],[0.1385,1.025],[0.1403,1.067],[0.1421,1.042],[0.1439,0.967],[0.1457,0.917],[0.1476,1.033],[0.1494,1.008],[0.1521,1.1],[0.1539,0.933],
[0.1563,1.008],[0.1581,1.017],[0.1599,1.033],[0.1617,1.117],[0.1636,1.017],[0.1654,1.008],[0.1672,1.117],[0.169,1.083],[0.1708,1.025],[0.1727,0.992],[0.1745,1.133],[0.1763,1.042],[0.1781,1.083],[0.18,1.028],[0.1818,0.933],[0.1832,1.122],[0.1854,1.042],[0.1869,1.088],[0.1887,1.025],[0.1905,0.955],[0.1923,1.017],[0.1942,1.008],[0.196,1.078],[0.1978,0.975],[0.1996,0.942],[0.2014,1.008],[0.2033,0.992],[0.2051,0.978],[0.2069,0.93],[0.2087,1.075],[0.2105,1.017],[0.2124,1.033],[0.2142,0.983],[0.216,0.958],[0.2178,0.942],[0.2197,0.933],[0.2215,0.983],[0.2233,0.992],[0.2251,0.95],[0.2269,0.95],[0.2288,0.95],[0.2306,1.008],[0.2324,0.992],[0.2342,1.042],[0.2361,1.058],[0.2379,0.958],[0.2397,1.025],[0.2415,0.995],[0.2433,0.95],[0.2451,0.995],[0.247,1.025],[0.2484,1.055],[0.2503,1.028],[0.2521,0.855],[0.2536,1.072],[0.2557,0.95],[0.2572,0.908],[0.259,0.9],[0.2608,0.883],[0.2626,0.992],[0.2645,0.895],[0.2663,0.925],[0.2681,0.867],[0.2699,0.883],[0.2718,0.883],[0.2736,0.967],[0.2754,0.95],[0.2772,0.933],[0.279,1.017],[0.2809,0.975],[0.2827,0.975],[0.2845,1.017],[0.2863,1.025],[0.2881,0.983],[0.2896,1.117],[0.2918,1.017],[0.2936,1.095],[0.2951,1.005],[0.2973,0.995],[0.2987,1.095],[0.3002,1.042],[0.302,1.022],[0.3038,1.025],[0.3056,1.033],[0.3074,1.005],[0.3093,0.983],[0.3111,1.05],[0.3129,1.025],[0.3148,1.042],[0.3166,1.055],[0.3184,1.067],[0.3202,1.017],[0.322,1.042],[0.3238,1.058],[0.3257,0.928],[0.3275,1.028],[0.3293,0.978],[0.3311,1.067],[0.333,1.0],[0.3348,1.067],[0.3366,1.008],[0.3384,0.975],[0.3402,1.042],[0.3421,1.05],[0.3439,1.033],[0.3457,1.042],[0.3475,0.967],[0.3493,1.072],[0.3511,1.017],[0.353,0.975],[0.3548,1.072],[0.3566,0.988]
];

// ---------- axes / labels ----------
const xTicks = [-0.05, 0, 0.05, 0.1, 0.15, 0.2, 0.25, 0.3, 0.35];
const yTicks = [0.5, 1.0, 1.5];
const minuteTicks = [0, 100, 200, 300, 400, 500, 600];
const xDomain = [-0.06, 0.36];
const yDomain = [0.4, 1.5];
const minutesSpan = 602;   // minutes across the full x extent
const dipLabels = [{t: "B1", x: 0.15, y: 1.2}, {t: "B2", x: 0.21, y: 1.2}, {t: "B3", x: 0.26, y: 1.2}];
const perkinsLabel = {t: "Perkins:Optical", x: -0.02, y: 0.45, color: "#0000ff"};
const vltLabel = {t: "VLT:K", sub: "s", x: -0.02, y: 0.45, color: "#bfbf00"};
const spitzerLabel = {t: "Spitzer:4.5", mu: "\u03bc", unit: "m", x: -0.02, y: 0.45, color: "#ff0000"};
const titles = {top: "Minutes", x: "MJD(-57848)", y: "Normalized Flux"};

const toMjd = m => xDomain[0] + m * (xDomain[1] - xDomain[0]) / minutesSpan;
const toMin = d => Math.round((d - xDomain[0]) * minutesSpan / (xDomain[1] - xDomain[0]));

const SERIF = "DejaVu Serif";
const SANS = "DejaVu Sans";

function measure(txt, size, fam, style = "") {
  const c = document.createElement("canvas").getContext("2d");
  c.font = `${style} ${size}px "${fam}"`;
  return c.measureText(txt).width;
}

function panelPlot({height, marginTop, marginBottom, marks, bottomLabels, topAxis}) {
  const axes = [
    Plot.axisY({ticks: yTicks, tickSize: 5, tickPadding: 5, tickFormat: d3.format(".1f"), fontSize: 20, strokeWidth: 1.3, label: null}),
    Plot.axisX({ticks: xTicks, tickSize: 5, tickPadding: 5, tickFormat: bottomLabels ? d3.format(".2f") : () => "", fontSize: 20, strokeWidth: 1.3, label: null})
  ];
  if (topAxis) axes.push(Plot.axisX({anchor: "top", ticks: minuteTicks.map(toMjd), tickFormat: d => String(toMin(d)), tickSize: 5, tickPadding: 12, fontSize: 26, strokeWidth: 1.3, label: null}));
  return Plot.plot({
    width: 888, height, marginLeft: 97, marginRight: 22, marginTop, marginBottom,
    x: {type: "linear", domain: xDomain},
    y: {type: "linear", domain: yDomain},
    style: {fontFamily: SANS, color: "#000", background: "#fff", overflow: "visible"},
    marks: [...marks, ...axes, Plot.frame({stroke: "#000", strokeWidth: 1.4})]
  });
}

const px = d => d[0], py = d => d[1];
const labelOpts = (c, size, text = "t", extra = {}) => ({x: "x", y: "y", text, textAnchor: "start", lineAnchor: "bottom", fontSize: size, fontFamily: SERIF, fill: c, ...extra});

const p1 = panelPlot({
  height: 318, marginTop: 75, marginBottom: 23, topAxis: true,
  marks: [
    Plot.dot(perkins, {x: px, y: py, r: 4.2, fill: "#0000ff", clip: true}),
    Plot.text(dipLabels, {x: "x", y: "y", text: "t", textAnchor: "start", lineAnchor: "bottom", fontSize: 26, fontFamily: SANS, fill: "#000"}),
    Plot.text([perkinsLabel], labelOpts(perkinsLabel.color, 28))
  ]
});

const p2 = panelPlot({
  height: 265, marginTop: 22, marginBottom: 23,
  marks: [
    Plot.dot(vlt, {x: px, y: py, r: 4.5, fill: "#bfbf00", clip: true}),
    Plot.text([vltLabel], labelOpts(vltLabel.color, 28)),
    Plot.text([vltLabel], labelOpts(vltLabel.color, 20, "sub", {dx: measure(vltLabel.t, 28, SERIF) + 1, dy: 4}))
  ]
});

const muDx = measure(spitzerLabel.t, 28, SERIF);
const mDx = muDx + measure(spitzerLabel.mu, 28, SANS, "italic");
const p3 = panelPlot({
  height: 324, marginTop: 22, marginBottom: 82, bottomLabels: true,
  marks: [
    Plot.dot(spitzerRaw, {x: px, y: py, r: 2.5, fill: "#b0b0b0", clip: true}),
    Plot.dot(spitzerBinned, {x: px, y: py, r: 4.2, fill: "#ff0000", clip: true}),
    Plot.text([spitzerLabel], labelOpts(spitzerLabel.color, 28)),
    Plot.text([spitzerLabel], labelOpts(spitzerLabel.color, 28, "mu", {dx: muDx, fontFamily: SANS, fontStyle: "italic"})),
    Plot.text([spitzerLabel], labelOpts(spitzerLabel.color, 28, "unit", {dx: mDx}))
  ]
});

const wrap = document.getElementById("wrap");
wrap.append(p1, p2, p3);

function addTitle(text, css) {
  const d = document.createElement("div");
  d.className = "ttl";
  d.textContent = text;
  Object.assign(d.style, css);
  wrap.append(d);
}
addTitle(titles.top, {left: "481px", top: "0px", fontSize: "35px", lineHeight: "normal", transform: "translateX(-50%)"});
addTitle(titles.x, {left: "480px", top: "857px", fontSize: "42px", lineHeight: "1", transform: "translateX(-50%)"});
addTitle(titles.y, {left: "32px", top: "448px", fontSize: "44px", lineHeight: "1", transform: "translate(-50%,-50%) rotate(-90deg)"});
</script>
</body></html>
